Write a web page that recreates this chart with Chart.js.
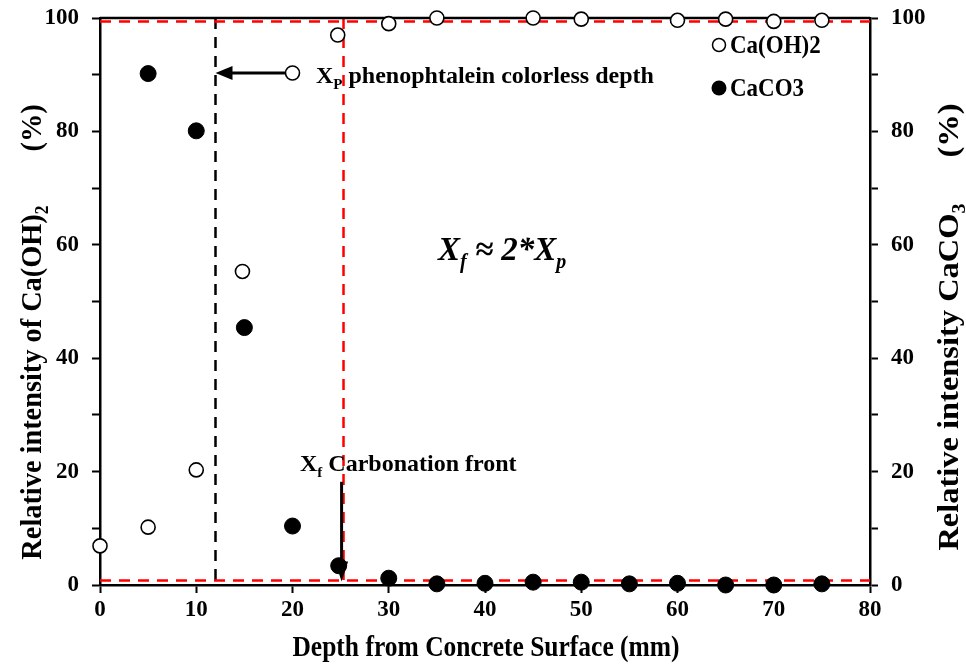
<!DOCTYPE html>
<html>
<head>
<meta charset="utf-8">
<script src="https://cdn.jsdelivr.net/npm/chart.js@4.4.1/dist/chart.umd.min.js"></script>
<style>
  html, body { margin: 0; padding: 0; background: #fff; }
  #wrap { width: 966px; height: 668px; }
</style>
</head>
<body>
<div id="wrap"><canvas id="c" width="966" height="668"></canvas></div>
<script>
// ---- data ----
const depthCaOH2 = [0, 5, 10, 14.8, 20, 24.7, 30, 35, 45, 50, 60, 65, 70, 75];
const valuesCaOH2 = [6.9, 10.2, 20.3, 55.3, 90.3, 97.0, 99.0, 100, 100, 99.8, 99.6, 99.8, 99.4, 99.6];
const depthCaCO3 = [5, 10, 15, 20, 24.8, 30, 35, 40, 45, 50, 55, 60, 65, 70, 75];
const valuesCaCO3 = [90.2, 80.1, 45.4, 10.4, 3.4, 1.2, 0.2, 0.3, 0.5, 0.5, 0.2, 0.3, 0.0, 0.0, 0.2];
const xTicks = [0, 10, 20, 30, 40, 50, 60, 70, 80];
const yTicks = [0, 20, 40, 60, 80, 100];
const depthXp = 12;       // phenolphthalein colourless depth
const depthXf = 25.3;     // carbonation front
const levelTop = 99.4;    // red dashed upper level
const levelBottom = 0.8;  // red dashed lower level
const arrowXp = { from: 20, to: 12, y: 90.3 };
const arrowXf = { x: 25.1, from: 18.2, to: 0.6 };

const FONT = '"Liberation Serif", "Times New Roman", serif';

function toPts(xs, ys) { return xs.map((x, i) => ({ x: x, y: ys[i] })); }

function drawRich(ctx, parts, x, y, size, align, italic, sy, sx) {
  // parts: [{t, sub, gap}]
  sy = sy || 1; sx = sx || 1;
  const style = (italic ? 'italic ' : '') + 'bold ';
  const fontOf = p => style + (p.sub ? Math.round(size * 0.62) : size) + 'px ' + FONT;
  let total = 0;
  const widths = parts.map(p => {
    if (p.gap) { total += p.gap / sx; return p.gap / sx; }
    ctx.font = fontOf(p);
    const w = ctx.measureText(p.t).width;
    total += w;
    return w;
  });
  let cx = align === 'center' ? -total / 2 : (align === 'right' ? -total : 0);
  ctx.save();
  ctx.translate(x, y);
  ctx.scale(sx, sy);
  ctx.textBaseline = 'alphabetic';
  ctx.textAlign = 'left';
  parts.forEach((p, i) => {
    if (!p.gap) {
      ctx.font = fontOf(p);
      ctx.fillText(p.t, cx, p.sub ? size * 0.25 : 0);
    }
    cx += widths[i];
  });
  ctx.restore();
}

const refPlugin = {
  id: 'refs',
  beforeDatasetsDraw(chart) {
    const { ctx, chartArea: a, scales } = chart;
    const xs = scales.x, ys = scales.y;
    ctx.save();
    ctx.lineWidth = 2.5;
    ctx.setLineDash([11, 8]);
    // black dashed vertical at Xp
    ctx.strokeStyle = '#000';
    let px = xs.getPixelForValue(depthXp);
    ctx.beginPath(); ctx.moveTo(px, a.top); ctx.lineTo(px, a.bottom); ctx.stroke();
    // red dashed
    ctx.strokeStyle = '#ff0000';
    px = xs.getPixelForValue(depthXf);
    ctx.beginPath(); ctx.moveTo(px, a.top); ctx.lineTo(px, a.bottom); ctx.stroke();
    [levelTop, levelBottom].forEach(v => {
      const py = ys.getPixelForValue(v);
      ctx.beginPath(); ctx.moveTo(a.left, py); ctx.lineTo(a.right, py); ctx.stroke();
    });
    ctx.setLineDash([]);
    // frame top
    ctx.strokeStyle = '#000';
    ctx.lineWidth = 2.5;
    ctx.beginPath(); ctx.moveTo(a.left, a.top); ctx.lineTo(a.right, a.top); ctx.stroke();
    // horizontal arrow (Xp)
    ctx.fillStyle = '#000';
    ctx.lineWidth = 3;
    const ay = ys.getPixelForValue(arrowXp.y);
    const ax1 = xs.getPixelForValue(arrowXp.from), ax2 = xs.getPixelForValue(arrowXp.to);
    ctx.beginPath(); ctx.moveTo(ax1, ay); ctx.lineTo(ax2 + 12, ay); ctx.stroke();
    ctx.beginPath(); ctx.moveTo(ax2, ay); ctx.lineTo(ax2 + 17, ay - 7); ctx.lineTo(ax2 + 17, ay + 7); ctx.closePath(); ctx.fill();
    ctx.restore();
  },
  afterDatasetsDraw(chart) {
    const { ctx, scales } = chart;
    const xs = scales.x, ys = scales.y;
    ctx.save();
    ctx.fillStyle = '#000';
    ctx.strokeStyle = '#000';
    ctx.lineWidth = 3;
    // vertical arrow (Xf), drawn over the points
    const vx = xs.getPixelForValue(arrowXf.x);
    const vy1 = ys.getPixelForValue(arrowXf.from), vy2 = ys.getPixelForValue(arrowXf.to);
    ctx.beginPath(); ctx.moveTo(vx, vy1); ctx.lineTo(vx, vy2 - 12); ctx.stroke();
    ctx.beginPath(); ctx.moveTo(vx, vy2); ctx.lineTo(vx - 6.5, vy2 - 20); ctx.lineTo(vx + 6.5, vy2 - 20); ctx.closePath(); ctx.fill();
    ctx.restore();
  },
  afterDraw(chart) {
    const { ctx, chartArea: a } = chart;
    ctx.save();
    ctx.fillStyle = '#000';
    // annotations
    drawRich(ctx, [{ t: 'X' }, { t: 'P', sub: true }, { t: ' phenophtalein colorless depth' }], 316, 83, 24, 'left');
    drawRich(ctx, [{ t: 'X' }, { t: 'f', sub: true }, { t: ' Carbonation front' }], 300, 471, 24, 'left');
    drawRich(ctx, [{ t: 'X' }, { t: 'f', sub: true }, { t: ' \u2248 2*X' }, { t: 'p', sub: true }], 438, 260, 33, 'left', true);

    // legend
    ctx.lineWidth = 1.5;
    ctx.strokeStyle = '#000';
    ctx.fillStyle = '#fff';
    ctx.beginPath(); ctx.arc(719, 45, 6.5, 0, Math.PI * 2); ctx.fill(); ctx.stroke();
    ctx.fillStyle = '#000';
    ctx.beginPath(); ctx.arc(719, 88, 7.5, 0, Math.PI * 2); ctx.fill();
    drawRich(ctx, [{ t: 'Ca(OH)2' }], 730, 53, 23, 'left', false, 1.12);
    drawRich(ctx, [{ t: 'CaCO3' }], 730, 96, 23, 'left', false, 1.12);

    // axis titles
    drawRich(ctx, [{ t: 'Depth from Concrete Surface (mm)' }], (a.left + a.right) / 2 + 1, 656, 25.5, 'center', false, 1.12);
    ctx.save();
    ctx.translate(41, 332);
    ctx.rotate(-Math.PI / 2);
    drawRich(ctx, [{ t: 'Relative intensity of Ca(OH)' }, { t: '2', sub: true }, { gap: 54 }, { t: '(%)' }], 0, 0, 27.5, 'center', false, 1.06, 1.03);
    ctx.restore();
    ctx.save();
    ctx.translate(958, 327);
    ctx.rotate(-Math.PI / 2);
    drawRich(ctx, [{ t: 'Relative intensity CaCO' }, { t: '3', sub: true }, { gap: 46 }, { t: '(%)' }], 0, 0, 27.5, 'center', false, 1.06, 1.18);
    ctx.restore();
    ctx.restore();
  }
};

const tickFont = { family: FONT, size: 23, weight: 'bold' };
const noPad = s => { s.paddingTop = 0; s.paddingBottom = 0; s.paddingLeft = 0; s.paddingRight = 0; };

new Chart(document.getElementById('c'), {
  type: 'scatter',
  data: {
    datasets: [
      {
        label: 'Ca(OH)2',
        data: toPts(depthCaOH2, valuesCaOH2),
        pointStyle: 'circle',
        pointRadius: 7,
        pointBackgroundColor: '#fff',
        pointBorderColor: '#000',
        pointBorderWidth: 1.6,
        yAxisID: 'y',
        clip: false
      },
      {
        label: 'CaCO3',
        data: toPts(depthCaCO3, valuesCaCO3),
        pointStyle: 'circle',
        pointRadius: 8,
        pointBackgroundColor: '#000',
        pointBorderColor: '#000',
        pointBorderWidth: 1,
        yAxisID: 'y2',
        clip: false
      }
    ]
  },
  options: {
    responsive: false,
    animation: false,
    layout: { padding: { top: 18, bottom: 0, left: 0, right: 0 } },
    plugins: { legend: { display: false }, tooltip: { enabled: false } },
    scales: {
      x: {
        type: 'linear', min: 0, max: 80,
        afterBuildTicks: s => { s.ticks = xTicks.map(v => ({ value: v })); },
        afterFit: s => { s.height = 83; noPad(s); },
        grid: { drawOnChartArea: false, drawTicks: true, tickLength: 8, tickWidth: 2, color: '#000' },
        border: { display: true, color: '#000', width: 2.5 },
        ticks: { font: tickFont, color: '#000', padding: 3, maxRotation: 0 }
      },
      y: {
        type: 'linear', position: 'left', min: 0, max: 100,
        afterBuildTicks: s => { s.ticks = []; for (let v = 0; v <= 100; v += 10) s.ticks.push({ value: v }); },
        afterFit: s => { s.width = 100; noPad(s); },
        grid: { drawOnChartArea: false, drawTicks: true, tickLength: 8, tickWidth: 2, color: '#000' },
        border: { display: true, color: '#000', width: 2.5 },
        ticks: { font: tickFont, color: '#000', padding: 13, callback: v => yTicks.includes(v) ? String(v) : '' }
      },
      y2: {
        type: 'linear', position: 'right', min: 0, max: 100,
        afterBuildTicks: s => { s.ticks = []; for (let v = 0; v <= 100; v += 10) s.ticks.push({ value: v }); },
        afterFit: s => { s.width = 96; noPad(s); },
        grid: { drawOnChartArea: false, drawTicks: true, tickLength: 8, tickWidth: 2, color: '#000' },
        border: { display: true, color: '#000', width: 2.5 },
        ticks: { font: tickFont, color: '#000', padding: 13, callback: v => yTicks.includes(v) ? String(v) : '' }
      }
    }
  },
  plugins: [refPlugin]
});
</script>
</body>
</html>
